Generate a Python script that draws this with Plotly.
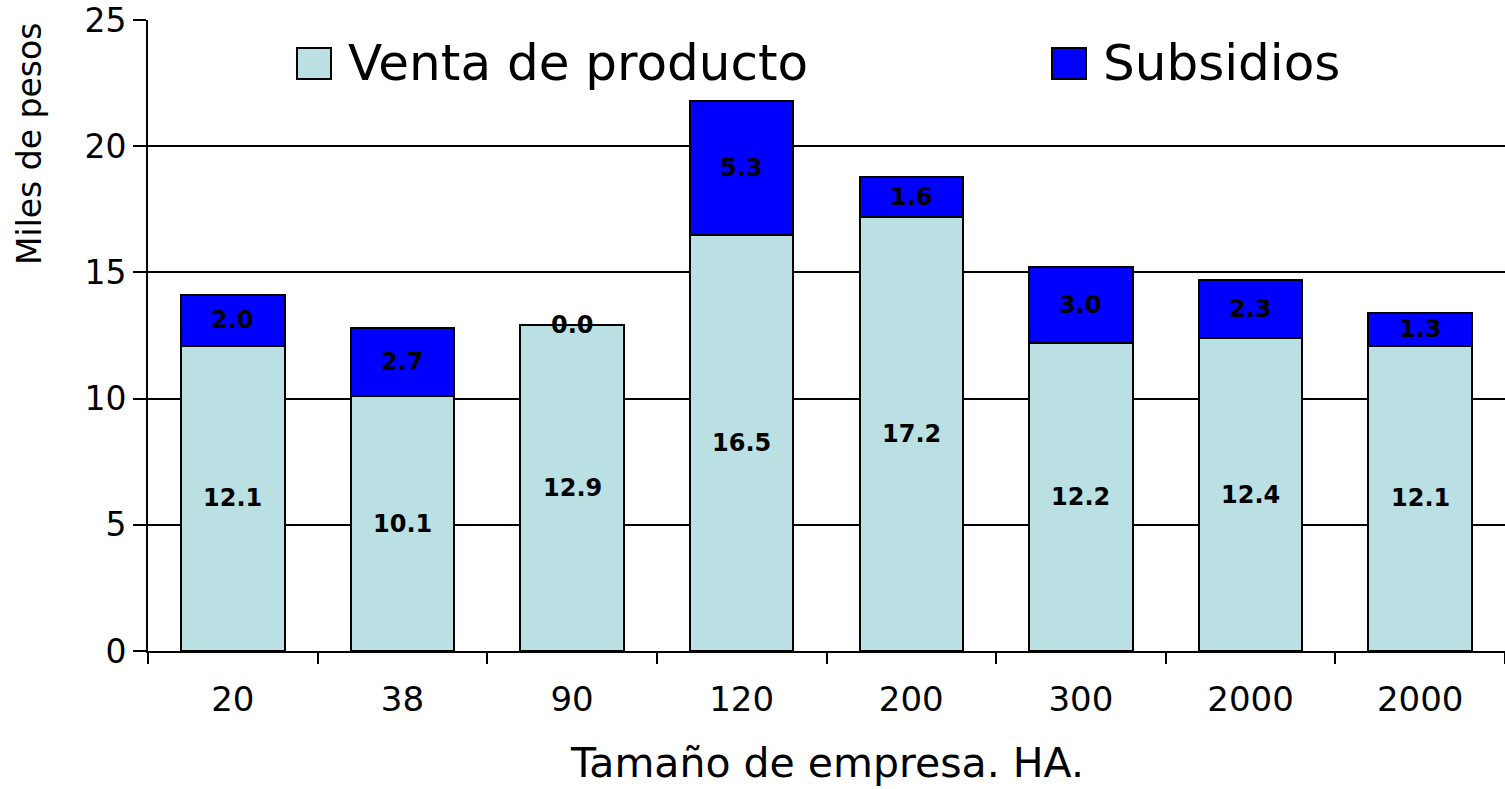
import plotly.graph_objects as go

# Farm size categories (hectares) and income components (thousand pesos)
sizes = ["20", "38", "90", "120", "200", "300", "2000", "2000"]
venta = [12.1, 10.1, 12.9, 16.5, 17.2, 12.2, 12.4, 12.1]
subsidios = [2.0, 2.7, 0.0, 5.3, 1.6, 3.0, 2.3, 1.3]
y_ticks = [0, 5, 10, 15, 20, 25]

VENTA_COLOR = "#BBE0E3"
SUBS_COLOR = "#0000FF"
FONT = "DejaVu Sans, Liberation Sans, Arial, sans-serif"

W, H = 1505, 789
M_L, M_R, M_T, M_B = 148, 0, 20, 138
PW = W - M_L - M_R
PH = H - M_T - M_B


def px_x(px):
    return (px - M_L) / PW


def px_y(py):
    return (H - M_B - py) / PH


xpos = list(range(len(sizes)))

fig = go.Figure()
fig.add_trace(go.Bar(
    x=xpos, y=venta, name="Venta de producto", width=0.61,
    marker=dict(color=VENTA_COLOR, line=dict(color="black", width=2)),
    showlegend=False,
))
fig.add_trace(go.Bar(
    x=xpos, y=subsidios, name="Subsidios", width=0.61,
    marker=dict(color=SUBS_COLOR, line=dict(color="black", width=2)),
    showlegend=False,
))

annotations = []
label_font = dict(family=FONT, size=24, color="black")
for i, (v, s) in enumerate(zip(venta, subsidios)):
    annotations.append(dict(x=i, y=v / 2, xref="x", yref="y", text=f"<b>{v:.1f}</b>",
                            showarrow=False, font=label_font))
    annotations.append(dict(x=i, y=v + s / 2, xref="x", yref="y", text=f"<b>{s:.1f}</b>",
                            showarrow=False, font=label_font))

# Axis titles
annotations.append(dict(x=px_x(30), y=px_y(144), xref="paper", yref="paper",
                        text="Miles de pesos", textangle=-90, showarrow=False,
                        font=dict(family=FONT, size=33, color="black"),
                        xanchor="center", yanchor="middle"))
annotations.append(dict(x=0.5, y=px_y(763), xref="paper", yref="paper",
                        text="Tamaño de empresa. HA.", showarrow=False,
                        font=dict(family=FONT, size=41, color="black"),
                        xanchor="center", yanchor="middle"))

# Legend drawn inside the plot area
shapes = []
legend_items = [("Venta de producto", VENTA_COLOR, 297), ("Subsidios", SUBS_COLOR, 1052)]
for label, color, x0 in legend_items:
    shapes.append(dict(type="rect", xref="paper", yref="paper",
                       x0=px_x(x0), x1=px_x(x0 + 34), y0=px_y(79), y1=px_y(48),
                       fillcolor=color, line=dict(color="black", width=2)))
    annotations.append(dict(x=px_x(x0 + 49), y=px_y(63), xref="paper", yref="paper",
                            text=label, showarrow=False, xanchor="left", yanchor="middle",
                            font=dict(family=FONT, size=50, color="black")))

fig.update_layout(
    width=W, height=H,
    margin=dict(l=M_L, r=M_R, t=M_T, b=M_B),
    barmode="stack",
    plot_bgcolor="white", paper_bgcolor="white",
    font=dict(family=FONT, color="black"),
    annotations=annotations,
    shapes=shapes,
    xaxis=dict(
        range=[-0.5, len(sizes) - 0.5],
        tickmode="array", tickvals=xpos, ticktext=sizes,
        ticks="outside", ticklen=17, tickcolor="rgba(0,0,0,0)",
        tickfont=dict(family=FONT, size=34, color="black"),
        showline=True, linecolor="black", linewidth=2,
        showgrid=False, zeroline=False,
        minor=dict(tickmode="array", tickvals=[i - 0.5 for i in range(len(sizes) + 1)],
                   ticks="outside", ticklen=11, tickwidth=2, tickcolor="black",
                   showgrid=False),
    ),
    yaxis=dict(
        range=[0, 25.0005],
        tickmode="array", tickvals=y_ticks,
        ticks="outside", ticklen=13, tickwidth=2, tickcolor="black",
        ticksuffix=" ",
        tickfont=dict(family=FONT, size=33, color="black"),
        showline=True, linecolor="black", linewidth=2,
        showgrid=True, gridcolor="black", gridwidth=2,
        zeroline=False,
    ),
)

fig.write_html("out.html")
